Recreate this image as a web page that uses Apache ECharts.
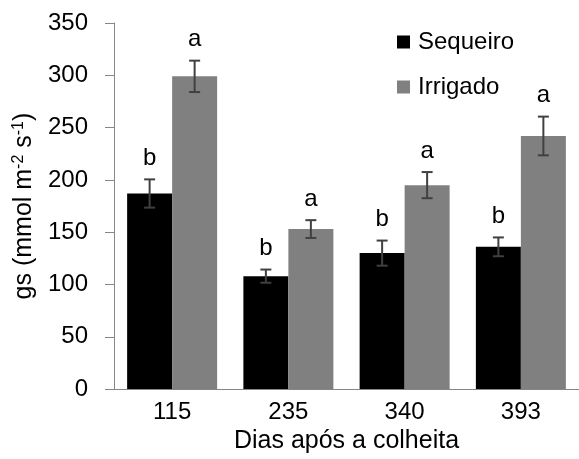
<!DOCTYPE html>
<html>
<head>
<meta charset="utf-8">
<script src="https://cdn.jsdelivr.net/npm/echarts@6/dist/echarts.min.js"></script>
<style>html,body{margin:0;padding:0;background:#fff}#c{width:579px;height:459px}</style>
</head>
<body>
<div id="c"></div>
<script>
const categories = ['115', '235', '340', '393'];
const sequeiro = [187, 108, 130, 136];
const irrigado = [299, 153, 195, 242];
const errSequeiro = [13.5, 6.3, 12, 9];
const errIrrigado = [15, 8.5, 12.5, 18.5];
const letSequeiro = ['b', 'b', 'b', 'b'];
const letIrrigado = ['a', 'a', 'a', 'a'];
const yTicks = [0, 50, 100, 150, 200, 250, 300, 350];

const FONT = 'Liberation Sans, Arial, sans-serif';
const BAR_W = 45;

function errSeries(name, vals, errs, letters, offset) {
  return {
    name: name + '_err',
    type: 'custom',
    z: 5,
    silent: true,
    data: vals.map((v, i) => [i, v, errs[i]]),
    renderItem: function (params, api) {
      const i = api.value(0), v = api.value(1), e = api.value(2);
      const c = api.coord([i, v]);
      const x = c[0] + offset;
      const yt = api.coord([i, v + e])[1];
      const yb = api.coord([i, v - e])[1];
      const st = { stroke: '#404040', lineWidth: 2 };
      return {
        type: 'group',
        children: [
          { type: 'line', shape: { x1: x, y1: yt, x2: x, y2: yb }, style: st },
          { type: 'line', shape: { x1: x - 5.5, y1: yt, x2: x + 5.5, y2: yt }, style: st },
          { type: 'line', shape: { x1: x - 5.5, y1: yb, x2: x + 5.5, y2: yb }, style: st },
          { type: 'text', x: x, y: yt - 9, style: { text: letters[params.dataIndex], fill: '#000', font: '24px ' + FONT, align: 'center', verticalAlign: 'bottom' } }
        ]
      };
    }
  };
}

const chart = echarts.init(document.getElementById('c'), null, { renderer: 'canvas' });
chart.setOption({
  backgroundColor: '#fff',
  animation: false,
  textStyle: { fontFamily: FONT },
  grid: { left: 114, right: -11, top: 23, bottom: 66, containLabel: false },
  legend: {
    orient: 'vertical',
    left: 397,
    top: 30,
    padding: 0,
    icon: 'rect',
    itemWidth: 13,
    itemHeight: 13,
    itemGap: 21,
    data: ['Sequeiro', 'Irrigado'],
    textStyle: { fontSize: 24, color: '#000', fontFamily: FONT, lineHeight: 24, padding: [0, 0, 0, 3] }
  },
  xAxis: {
    type: 'category',
    data: categories,
    name: 'Dias após a colheita',
    nameLocation: 'middle',
    nameGap: 38,
    nameTextStyle: { fontSize: 25, color: '#000', fontFamily: FONT },
    axisLine: { lineStyle: { color: '#868686', width: 1 } },
    axisTick: { show: false },
    axisLabel: { fontSize: 24, color: '#000', fontFamily: FONT, margin: 11 }
  },
  yAxis: {
    type: 'value',
    min: 0,
    max: 350,
    interval: 50,
    name: '{n|gs (mmol m}{s|-2}{n| s}{s|-1}{n|)}',
    nameLocation: 'middle',
    nameGap: 74,
    nameTextStyle: {
      rich: {
        n: { fontSize: 25, lineHeight: 28, color: '#000', fontFamily: FONT },
        s: { fontSize: 16, lineHeight: 16, verticalAlign: 'top', color: '#000', fontFamily: FONT }
      }
    },
    axisLine: { show: true, lineStyle: { color: '#868686', width: 1 } },
    axisTick: { show: true, inside: false, length: 9, lineStyle: { color: '#868686' } },
    splitLine: { show: false },
    axisLabel: {
      fontSize: 24, color: '#000', fontFamily: FONT, margin: 26,
      formatter: function (v) { return yTicks.indexOf(v) >= 0 ? String(v) : ''; }
    }
  },
  series: [
    { name: 'Sequeiro', type: 'bar', data: sequeiro, barWidth: BAR_W, barGap: '0%', itemStyle: { color: '#000000' } },
    { name: 'Irrigado', type: 'bar', data: irrigado, barWidth: BAR_W, barGap: '0%', itemStyle: { color: '#808080' } },
    errSeries('Sequeiro', sequeiro, errSequeiro, letSequeiro, -BAR_W / 2),
    errSeries('Irrigado', irrigado, errIrrigado, letIrrigado, BAR_W / 2)
  ]
});
</script>
</body>
</html>
